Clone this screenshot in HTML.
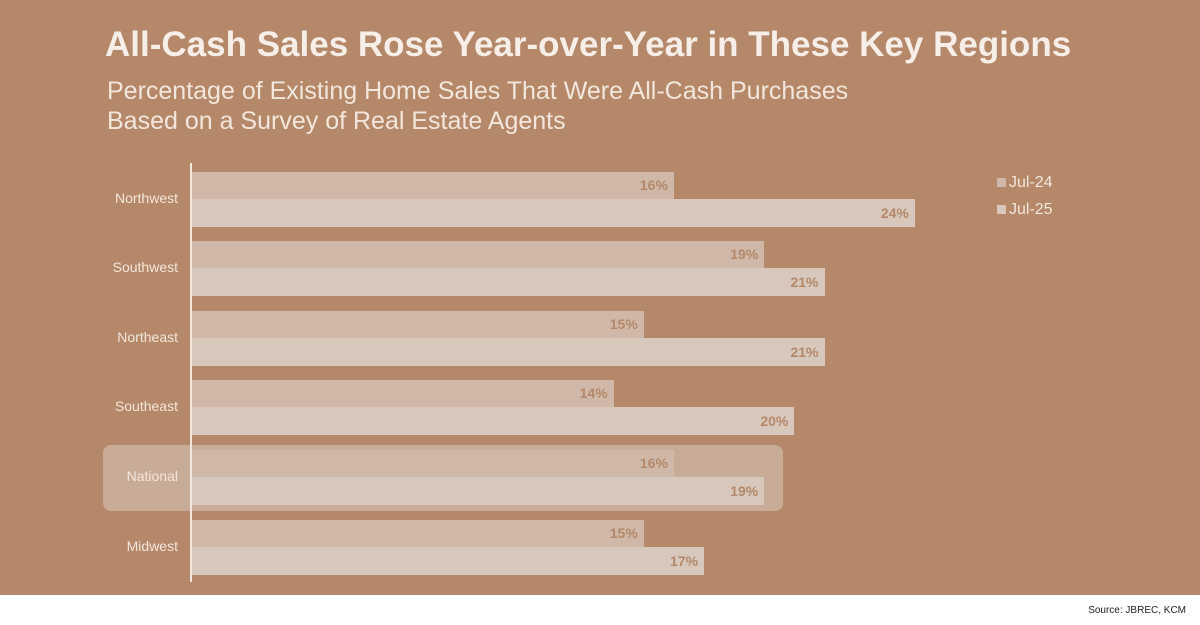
<!DOCTYPE html>
<html><head><style>
body{margin:0;width:1200px;height:625px;background:#fff;font-family:"Liberation Sans",sans-serif;position:relative;overflow:hidden}
.bg{position:absolute;left:0;top:0;width:1200px;height:595px;background:#b48868}
.t{position:absolute;color:#f7eee8;white-space:nowrap}
.bar{position:absolute;left:192px;height:27px}
.a{background:#d0b8a8}.b{background:#d8c8bc}
.v{position:absolute;font-size:14px;font-weight:bold;color:#b48868;text-align:right;width:40px}
.lab{position:absolute;width:80px;left:98px;text-align:right;font-size:14px;color:#f3e6dc}
</style></head><body>
<div class="bg"></div>
<div class="t" style="left:105px;top:25px;font-size:35px;font-weight:bold">All-Cash Sales Rose Year-over-Year in These Key Regions</div>
<div class="t" style="left:107px;top:76px;font-size:25px;line-height:30px;color:#f3e6dc">Percentage of Existing Home Sales That Were All-Cash Purchases<br>Based on a Survey of Real Estate Agents</div>
<div style="position:absolute;left:103px;top:445px;width:680px;height:66px;border-radius:8px;background:#c9ac97"></div>
<div style="position:absolute;left:190px;top:163px;width:2px;height:419px;background:#f3e6dc"></div>
<div id="c"></div>
<div class="t" style="left:997px;top:174px;font-size:16px;color:#f3e6dc"><span style="display:inline-block;width:9px;height:9px;background:#d0b8a8;margin-right:3px"></span>Jul-24</div>
<div class="t" style="left:997px;top:201px;font-size:16px;color:#f3e6dc"><span style="display:inline-block;width:9px;height:9px;background:#d8c8bc;margin-right:3px"></span>Jul-25</div>
<div style="position:absolute;right:14px;top:605px;font-size:10px;color:#222">Source: JBREC, KCM</div>
<script>
var d=[["Northwest",16,24,172],["Southwest",19,21,241],["Northeast",15,21,311],["Southeast",14,20,380],["National",16,19,450],["Midwest",15,17,520]];
var h="",s=30.12;
d.forEach(function(r){var y=r[3];
h+='<div class="lab" style="top:'+(y+18)+'px">'+r[0]+'</div>';
h+='<div class="bar a" style="top:'+y+'px;width:'+(r[1]*s)+'px"></div>';
h+='<div class="bar b" style="top:'+(y+27)+'px;width:'+(r[2]*s)+'px;height:28px"></div>';
h+='<div class="v" style="top:'+(y+5)+'px;left:'+(192+r[1]*s-46)+'px">'+r[1]+'%</div>';
h+='<div class="v" style="top:'+(y+33)+'px;left:'+(192+r[2]*s-46)+'px">'+r[2]+'%</div>';});
document.getElementById("c").innerHTML=h;
</script>
</body></html>
